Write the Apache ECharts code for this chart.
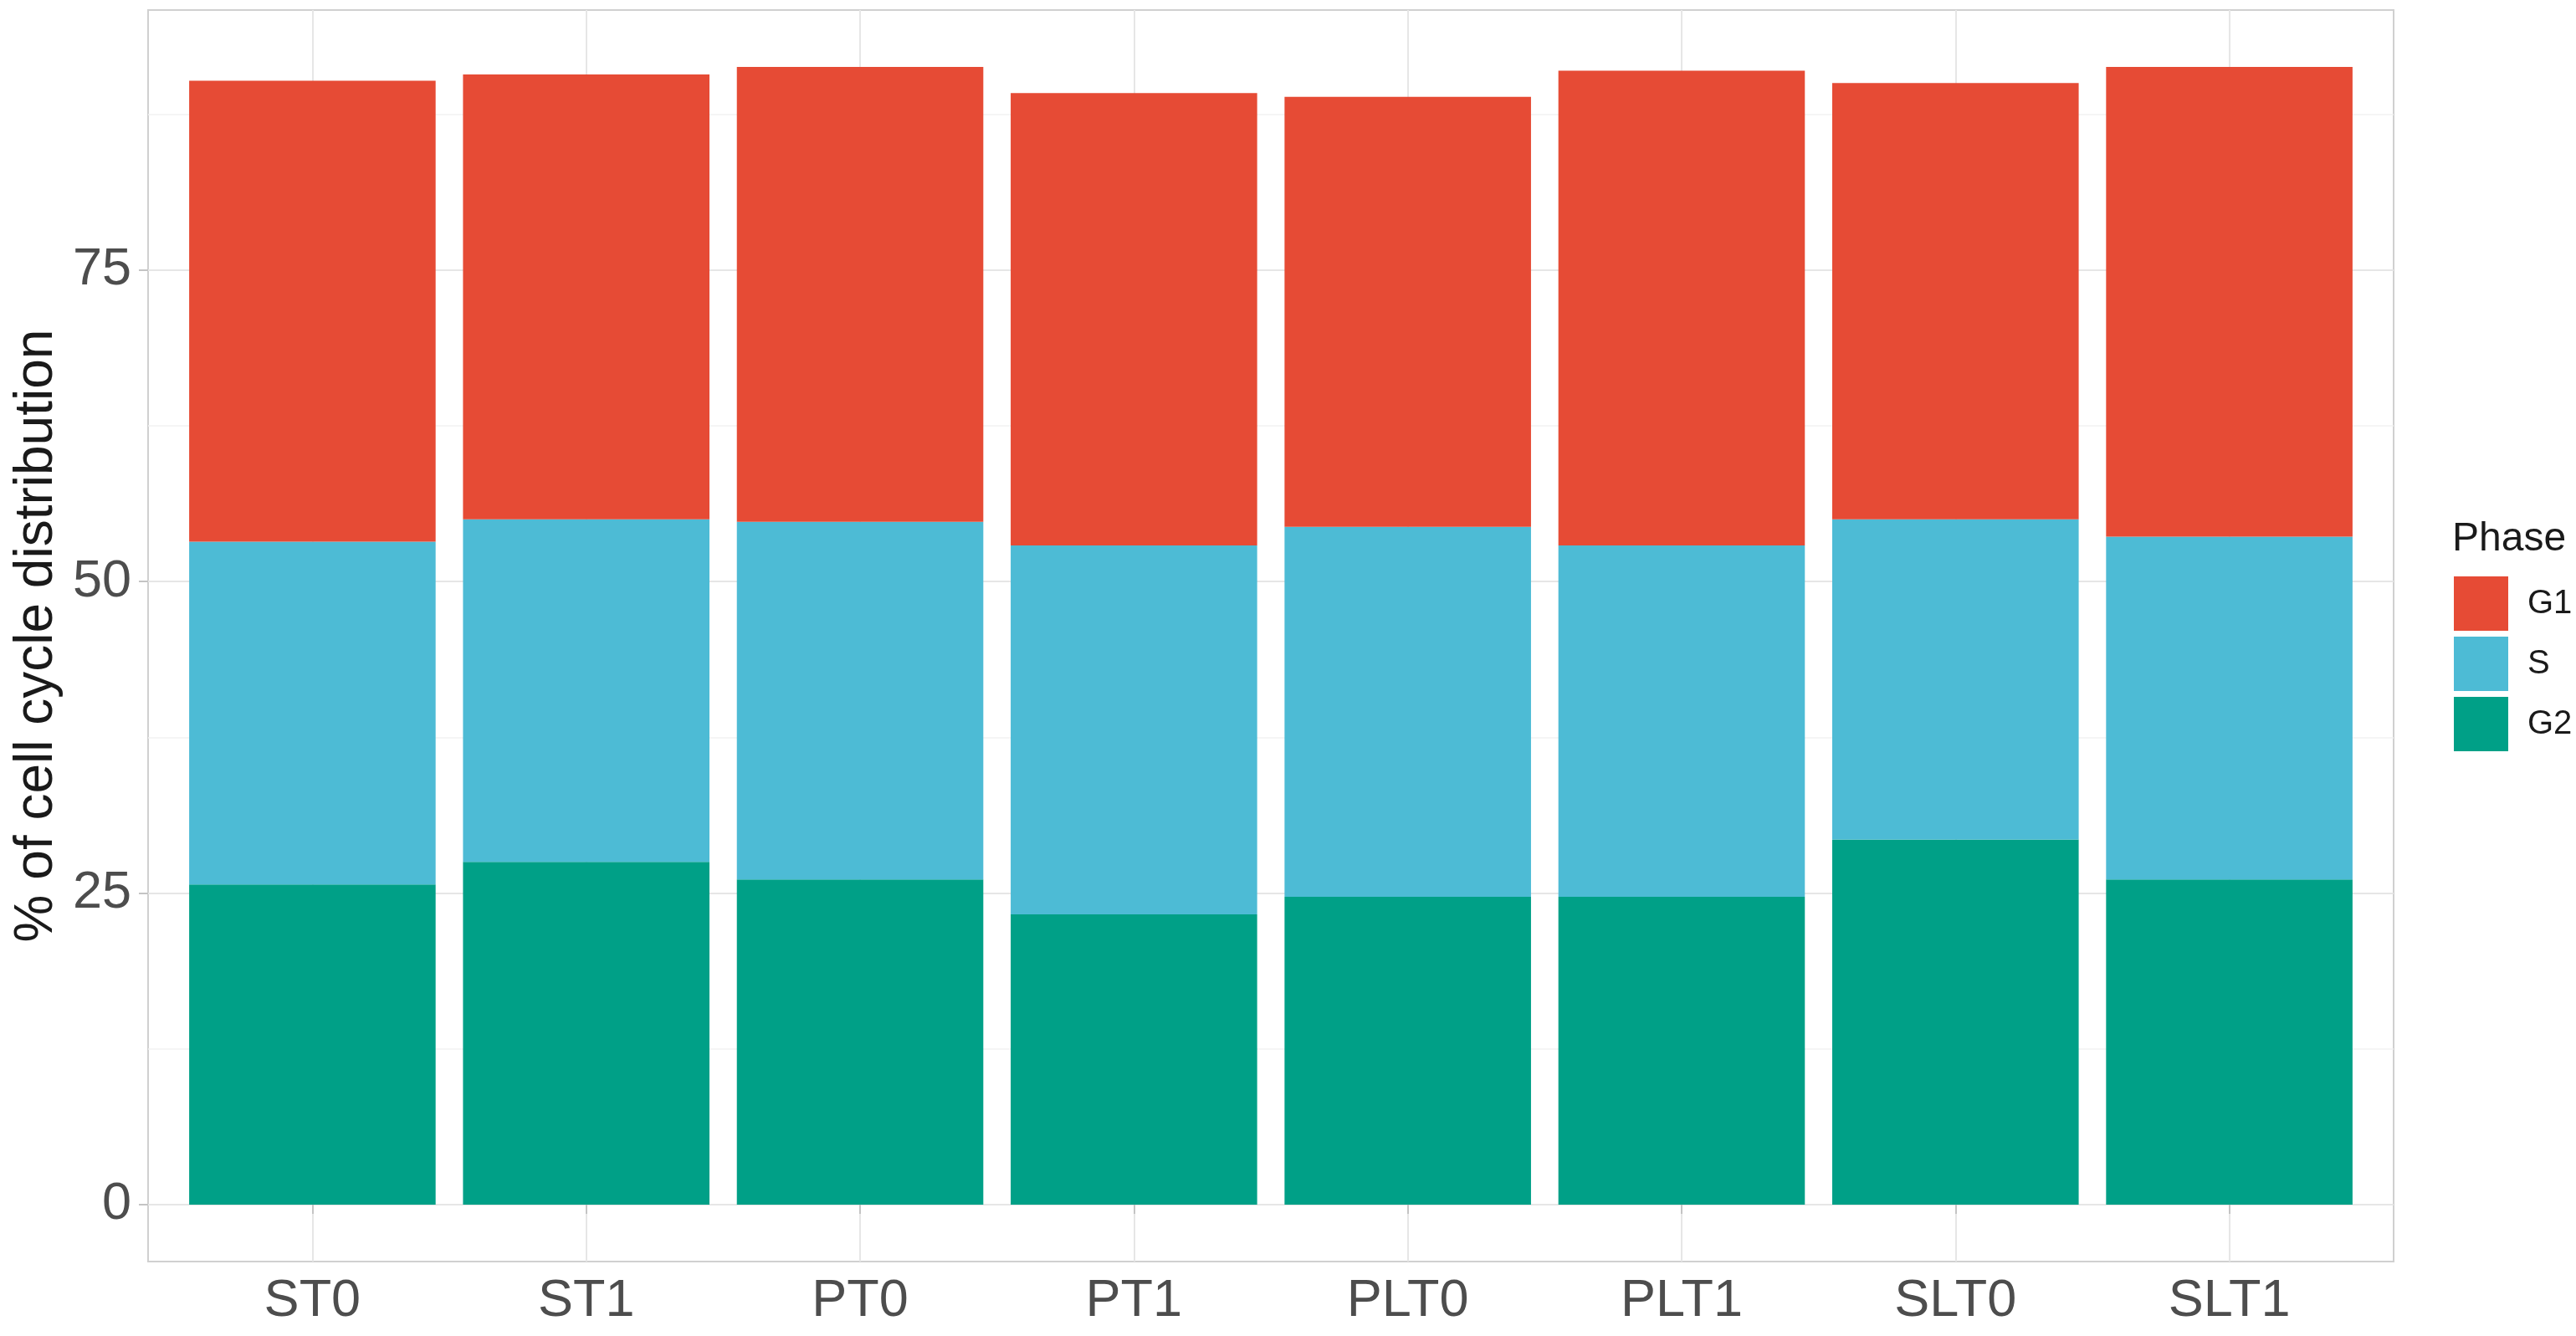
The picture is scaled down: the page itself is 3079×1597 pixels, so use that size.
<!DOCTYPE html>
<html>
<head>
<meta charset="utf-8">
<script src="https://cdn.jsdelivr.net/npm/echarts@6/dist/echarts.min.js"></script>
<style>
html,body{margin:0;padding:0;background:#fff;}
#chart{width:3079px;height:1597px;}
</style>
</head>
<body>
<div id="chart"></div>
<script>
const categories = ['ST0','ST1','PT0','PT1','PLT0','PLT1','SLT0','SLT1'];
const g2Values = [25.7, 27.5, 26.1, 23.3, 24.7, 24.7, 29.3, 26.1];
const sValues  = [27.5, 27.5, 28.7, 29.6, 29.7, 28.2, 25.7, 27.5];
const g1Values = [37.0, 35.7, 36.5, 36.3, 34.5, 38.1, 35.0, 37.7];
const yTicks = [0, 25, 50, 75];
const yMinorTicks = [12.5, 37.5, 62.5, 87.5];
const phaseNames = ['G1', 'S', 'G2'];
const phaseColors = {G1: '#E64B35', S: '#4DBBD5', G2: '#00A087'};

const xPositions = categories.map((c, i) => i + 1);
const totals = categories.map((c, i) => g2Values[i] + sValues[i] + g1Values[i]);
const yMaxData = Math.max(...totals);
const yExpand = yMaxData * 0.05;

const FONT = 'Liberation Sans, Arial, Helvetica, sans-serif';

// value first (stacked dimension), position second
function pairs(vals) { return vals.map((v, i) => [v, xPositions[i]]); }

const chart = echarts.init(document.getElementById('chart'), null, {renderer: 'canvas'});
const barBase = {type: 'bar', stack: 'total', barWidth: '90%', z: 2, encode: {x: 1, y: 0}};
const option = {
  animation: false,
  backgroundColor: '#ffffff',
  title: {
    text: 'Phase',
    left: 2931, top: 621, padding: 0,
    textStyle: {fontFamily: FONT, fontSize: 48, fontWeight: 'normal', color: '#1a1a1a'}
  },
  legend: {
    data: phaseNames,
    orient: 'vertical',
    left: 2933, top: 689,
    itemWidth: 65, itemHeight: 65, itemGap: 7,
    icon: 'rect',
    padding: 0,
    textStyle: {fontFamily: FONT, fontSize: 40, color: '#1a1a1a', padding: [0, 0, 0, 18]}
  },
  grid: {
    left: 177, top: 12, width: 2684, height: 1496,
    show: true, borderColor: '#d0d0d0', borderWidth: 2, backgroundColor: 'transparent',
    containLabel: false
  },
  xAxis: {
    type: 'value',
    min: 1 - 0.6, max: categories.length + 0.6,
    axisLine: {show: false},
    splitLine: {show: false},
    axisTick: {show: true, customValues: xPositions, length: 11, lineStyle: {color: '#c4c4c4', width: 2}},
    axisLabel: {
      customValues: xPositions,
      formatter: v => categories[Math.round(v) - 1] || '',
      fontFamily: FONT, fontSize: 63, color: '#4d4d4d', margin: 16
    }
  },
  yAxis: {
    type: 'value',
    min: -yExpand, max: yMaxData + yExpand,
    name: '% of cell cycle distribution',
    nameLocation: 'middle', nameRotate: 90, nameGap: 100,
    nameTextStyle: {fontFamily: FONT, fontSize: 64, color: '#1a1a1a'},
    axisLine: {show: false},
    splitLine: {show: false},
    axisTick: {show: true, customValues: yTicks, length: 11, lineStyle: {color: '#c4c4c4', width: 2}},
    axisLabel: {
      customValues: yTicks,
      fontFamily: FONT, fontSize: 63, color: '#4d4d4d', margin: 20
    }
  },
  series: [
    {
      name: '_grid', type: 'line', data: [], z: 0, silent: true,
      markLine: {
        z: 0, zlevel: 0,
        silent: true, symbol: 'none', animation: false,
        label: {show: false},
        emphasis: {disabled: true},
        data: [
          ...yMinorTicks.map(v => ({yAxis: v, lineStyle: {color: '#f2f2f2', width: 1.5, type: 'solid'}})),
          ...yTicks.map(v => ({yAxis: v, lineStyle: {color: '#e6e6e6', width: 2, type: 'solid'}})),
          ...xPositions.map(v => ({xAxis: v, lineStyle: {color: '#e6e6e6', width: 2, type: 'solid'}}))
        ]
      }
    },
    Object.assign({name: 'G2', data: pairs(g2Values), itemStyle: {color: phaseColors.G2}}, barBase),
    Object.assign({name: 'S',  data: pairs(sValues),  itemStyle: {color: phaseColors.S}}, barBase),
    Object.assign({name: 'G1', data: pairs(g1Values), itemStyle: {color: phaseColors.G1}}, barBase)
  ]
};
chart.setOption(option);
</script>
</body>
</html>
